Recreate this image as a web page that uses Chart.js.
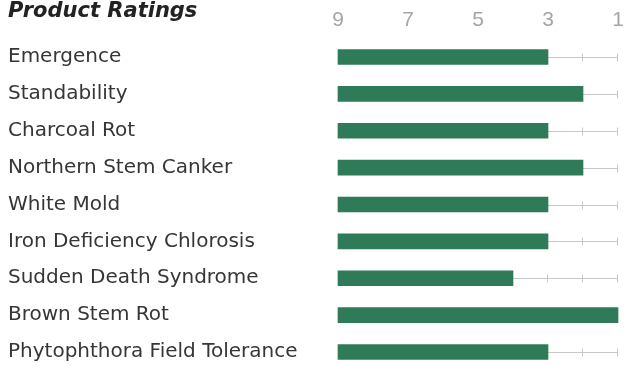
<!DOCTYPE html>
<html>
<head>
<meta charset="utf-8">
<script src="https://cdn.jsdelivr.net/npm/chart.js@4/dist/chart.umd.min.js"></script>
<style>
    html, body { margin: 0; padding: 0; background: #fff; }
    #wrap { position: relative; width: 625px; height: 367px; }
    #title {
        position: absolute; left: 8px; top: -2px;
        font: italic bold 21px "DejaVu Sans", sans-serif;
        color: #222;
    }
</style>
</head>
<body>
<div id="wrap">
    <canvas id="chart" width="625" height="367"></canvas>
    <div id="title">Product Ratings</div>
</div>
<script>
// Ratings run from 9 (left) to 1 (right)
const traits = [
    'Emergence',
    'Standability',
    'Charcoal Rot',
    'Northern Stem Canker',
    'White Mold',
    'Iron Deficiency Chlorosis',
    'Sudden Death Syndrome',
    'Brown Stem Rot',
    'Phytophthora Field Tolerance'
];
const ratings = [3, 2, 3, 2, 3, 3, 4, 1, 3];
const scaleStart = 9;
const scaleEnd = 1;
const tickValues = [9, 7, 5, 3, 1];

// Thin grey track with small marks from the end of each bar to the end of the scale
const trackPlugin = {
    id: 'track',
    beforeDatasetsDraw(chart) {
        const ctx = chart.ctx;
        const x = chart.scales.x;
        const y = chart.scales.y;
        ctx.save();
        ctx.strokeStyle = '#c8c8c8';
        ctx.lineWidth = 1;
        ratings.forEach((r, i) => {
            const cy = Math.round(y.getPixelForValue(i)) + 0.5;
            ctx.beginPath();
            ctx.moveTo(x.getPixelForValue(r), cy);
            ctx.lineTo(x.getPixelForValue(scaleEnd), cy);
            ctx.stroke();
            for (let v = r - 1; v >= scaleEnd; v--) {
                const px = Math.round(x.getPixelForValue(v)) - 0.5;
                ctx.beginPath();
                ctx.moveTo(px, cy - 4);
                ctx.lineTo(px, cy + 4);
                ctx.stroke();
            }
        });
        ctx.restore();
    }
};

new Chart(document.getElementById('chart'), {
    type: 'bar',
    data: {
        labels: traits,
        datasets: [{
            data: ratings.map(r => [scaleStart, r]),
            backgroundColor: '#2f7a58',
            barThickness: 15,
            borderSkipped: false,
            clip: false
        }]
    },
    plugins: [trackPlugin],
    options: {
        indexAxis: 'y',
        responsive: false,
        animation: false,
        layout: {
            padding: { left: 8, right: 7, top: 0, bottom: 10 }
        },
        plugins: {
            legend: { display: false },
            tooltip: { enabled: false }
        },
        scales: {
            x: {
                position: 'top',
                reverse: true,
                min: scaleEnd,
                max: scaleStart,
                afterBuildTicks: (axis) => {
                    axis.ticks = tickValues.map(v => ({ value: v }));
                },
                afterFit: (axis) => {
                    axis.height = 57;
                    axis.paddingLeft = 0;
                    axis.paddingRight = 0;
                },
                grid: { display: false, drawTicks: false },
                border: { display: false },
                ticks: {
                    padding: 24,
                    color: '#a6a6a6',
                    font: { family: 'Liberation Sans', size: 21 }
                }
            },
            y: {
                offset: false,
                afterFit: (axis) => { axis.width = 330; },
                grid: { display: false, drawTicks: false },
                border: { display: false },
                ticks: {
                    crossAlign: 'far',
                    color: '#363636',
                    font: { family: 'DejaVu Sans', size: 20 }
                }
            }
        }
    }
});
</script>
</body>
</html>
